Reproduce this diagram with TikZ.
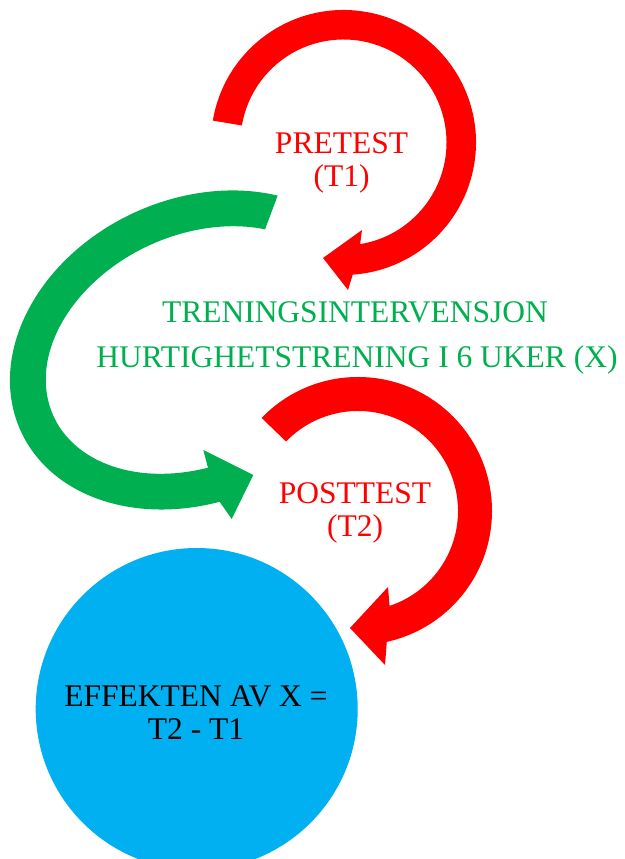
\documentclass[tikz,border=0pt]{standalone}
\usepackage{fontspec}
\setmainfont{Liberation Serif}
\definecolor{tred}{HTML}{FF0000}
\definecolor{tgreen}{HTML}{00B050}
\definecolor{tblue}{HTML}{00B0F0}
\begin{document}
\begin{tikzpicture}[x=1pt,y=1pt,
  lbl/.style={inner sep=0pt, anchor=base, font=\fontsize{31.5}{33}\selectfont}]
\useasboundingbox (0,0) rectangle (624,859);
\clip (0,0) rectangle (624,859);
% blue circle
\node[circle, fill=tblue, minimum size=322pt, inner sep=0pt] (effect) at (196.7,150) {};
% top red circular arrow
\coordinate (rw1) at (348,569);
\coordinate (rtip) at (323,601);
\coordinate (rw2) at (362,629);
\fill[tred] ([shift={(343.5,716.5)}]170.5:132.5) arc[start angle=170.5, end angle=-86, radius=132.5]
  -- (rw1) -- (rtip) -- (rw2)
  -- ([shift={(343.5,716.5)}]-80.7:103) arc[start angle=-80.7, end angle=170.5, radius=103] -- cycle;
% bottom red circular arrow
\coordinate (sw1) at (385,194);
\coordinate (stip) at (350,231);
\coordinate (sw2) at (388,272);
\fill[tred] ([shift={(358,348)}]136:134) arc[start angle=136, end angle=-77.6, radius=134]
  -- (sw1) -- (stip) -- (sw2)
  -- ([shift={(358,348)}]-71.6:100) arc[start angle=-71.6, end angle=136, radius=100] -- cycle;
% green curved arrow (rotated elliptical band)
\coordinate (gw1) at (231.7,340);
\coordinate (gtip) at (253.3,384);
\coordinate (gw2) at (203.3,409);
\begin{scope}[shift={(197,509)}, rotate=25]
\fill[tgreen] (44.5:194 and 151) arc[start angle=44.5, end angle=257, x radius=194, y radius=151]
  -- (gw1) -- (gtip) -- (gw2)
  -- (255.4:158 and 115) arc[start angle=255.4, end angle=44.5, x radius=158, y radius=115] -- cycle;
\end{scope}
% labels
\node[lbl, text=tred] (pre1) at (341.5,705) {PRETEST};
\node[lbl, text=tred] (pre2) at (341.5,672) {(T1)};
\node[lbl, text=tgreen] (tr1) at (355,536) {TRENINGSINTERVENSJON};
\node[lbl, text=tgreen] (tr2) at (357,491) {HURTIGHETSTRENING I 6 UKER (X)};
\node[lbl, text=tred] (post1) at (355,355) {POSTTEST};
\node[lbl, text=tred] (post2) at (355,322) {(T2)};
\node[lbl, text=black] (eff1) at (196,152) {EFFEKTEN AV X =};
\node[lbl, text=black] (eff2) at (196,119.5) {T2 - T1};
\end{tikzpicture}
\end{document}
